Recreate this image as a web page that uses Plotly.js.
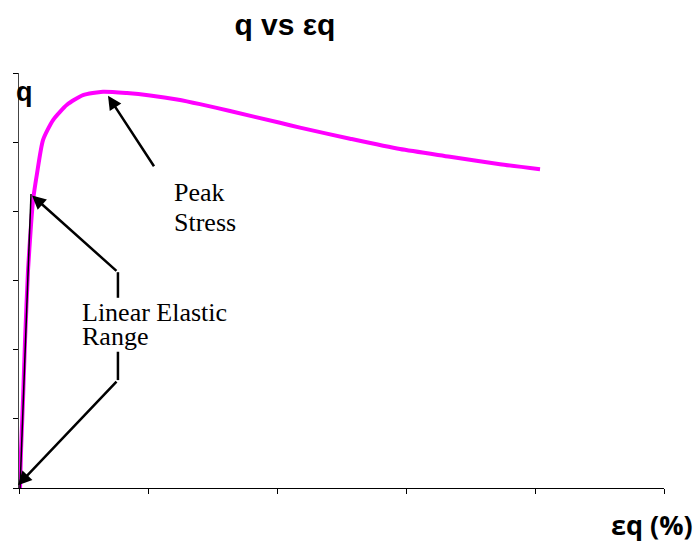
<!DOCTYPE html>
<html>
<head>
<meta charset="utf-8">
<script src="https://cdn.plot.ly/plotly-3.0.1.min.js"></script>
<style>html,body{margin:0;padding:0;background:#fff;}#chart{width:700px;height:544px;}</style>
</head>
<body>
<div id="chart"></div>
<script>
// Strain (%) and deviator stress q (arbitrary units, no tick labels)
const strain = [0.008, 0.016, 0.031, 0.047, 0.070, 0.093, 0.109, 0.140, 0.186, 0.264, 0.372, 0.496, 0.651, 0.837, 1.016, 1.225, 1.403, 1.636, 2.023, 2.178, 2.566, 2.953, 3.341, 3.729, 4.039];
const q      = [0.00, 0.55, 1.27, 2.14, 3.15, 3.80, 4.16, 4.55, 5.03, 5.32, 5.54, 5.68, 5.73, 5.71, 5.675, 5.617, 5.55, 5.45, 5.28, 5.21, 5.05, 4.90, 4.79, 4.68, 4.61];
const xTicks = [0, 1, 2, 3, 4, 5];
const yTicks = [0, 1, 2, 3, 4, 5, 6];
// Annotation anchor points (data units)
const peakTip = [0.690, 5.67], peakTail = [1.054, 4.63];
const leTopTip = [0.101, 4.23], leTopTail = [0.767, 3.12], leTopEnd = [0.767, 2.75];
const leBotTip = [-0.008, 0.04], leBotTail = [0.767, 1.56], leBotEnd = [0.767, 1.97];
const linearLine = [[0.008, 0.0], [0.093, 4.25]];

const trace = {
  x: strain, y: q, type: 'scatter', mode: 'lines',
  line: {color: '#FF00FF', width: 4, shape: 'spline', smoothing: 0.6}, hoverinfo: 'skip', showlegend: false
};

const arrow = (tip, tail) => ({
  x: tip[0], y: tip[1], xref: 'x', yref: 'y',
  ax: tail[0], ay: tail[1], axref: 'x', ayref: 'y',
  showarrow: true, arrowhead: 2, arrowsize: 1.1, arrowwidth: 2.5, arrowcolor: '#000', text: ''
});
const serif = {family: 'Liberation Serif, Times New Roman, serif', size: 26, color: '#000'};
const label = (txt, px, baseline) => ({
  x: (px - 19) / 645, y: (488 - baseline) / 415, xref: 'paper', yref: 'paper',
  xanchor: 'left', yanchor: 'bottom', yshift: -6, showarrow: false, text: txt, font: serif
});

const layout = {
  width: 700, height: 544,
  margin: {l: 19, r: 36, t: 73, b: 56},
  paper_bgcolor: '#fff', plot_bgcolor: '#fff',
  showlegend: false,
  title: {text: '<b>q vs εq</b>', x: 0.407, xanchor: 'center', y: 0.955, yanchor: 'middle',
          font: {family: 'Liberation Sans, Arial, sans-serif', size: 30, color: '#000'}},
  xaxis: {range: [0, 5], tickvals: xTicks, showticklabels: false, ticks: 'outside', ticklen: 5,
          tickcolor: '#000', showline: true, linecolor: '#000', linewidth: 1, showgrid: false, zeroline: false},
  yaxis: {range: [0, 6], tickvals: yTicks, showticklabels: false, ticks: 'outside', ticklen: 5,
          tickcolor: '#000', showline: true, linecolor: '#444', linewidth: 1, showgrid: false, zeroline: false},
  shapes: [
    {type: 'line', xref: 'x', yref: 'y', x0: leTopTail[0], y0: leTopTail[1], x1: leTopEnd[0], y1: leTopEnd[1], line: {color: '#000', width: 2.5}},
    {type: 'line', xref: 'x', yref: 'y', x0: leBotTail[0], y0: leBotTail[1], x1: leBotEnd[0], y1: leBotEnd[1], line: {color: '#000', width: 2.5}},
    {type: 'line', xref: 'x', yref: 'y', x0: linearLine[0][0], y0: linearLine[0][1], x1: linearLine[1][0], y1: linearLine[1][1], line: {color: '#000', width: 1.5}}
  ],
  annotations: [
    arrow(peakTip, peakTail),
    arrow(leTopTip, leTopTail),
    arrow(leBotTip, leBotTail),
    label('Peak', 172, 203),
    label('Stress', 172, 233),
    label('Linear Elastic', 80, 323),
    label('Range', 80, 347),
    {x: -0.008, y: 0.954, xref: 'paper', yref: 'paper', xanchor: 'left', yanchor: 'middle', showarrow: false,
     text: '<b>q</b>', font: {family: 'Liberation Sans, Arial, sans-serif', size: 27, color: '#000'}},
    {x: 1.048, y: -0.089, xref: 'paper', yref: 'paper', xanchor: 'right', yanchor: 'middle', showarrow: false,
     text: '<b>εq (%)</b>', font: {family: 'Open Sans, sans-serif', size: 27, color: '#000'}}
  ]
};

Plotly.newPlot('chart', [trace], layout, {displayModeBar: false, staticPlot: true});
</script>
</body>
</html>
